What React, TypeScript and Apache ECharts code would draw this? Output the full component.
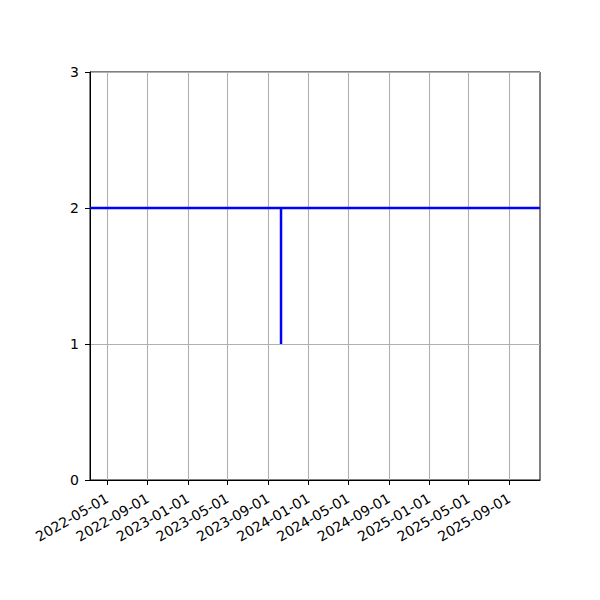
import React, { useEffect, useRef } from "react";
import * as echarts from "echarts";

const X_MIN = "2022-03-10";
const X_MAX = "2025-12-03";
const lineDates = ["2022-03-10", "2023-10-10", "2023-10-10", "2023-10-10", "2025-12-03"];
const lineValues = [2, 2, 1, 2, 2];
const tickDates = [
  "2022-05-01", "2022-09-01", "2023-01-01", "2023-05-01", "2023-09-01",
  "2024-01-01", "2024-05-01", "2024-09-01", "2025-01-01", "2025-05-01", "2025-09-01",
];
const yMin = 0;
const yMax = 3;
const yInterval = 1;

const ts = (s: string) => new Date(s + "T00:00:00Z").getTime();
const pad = (n: number) => (n < 10 ? "0" + n : "" + n);
const fmt = (v: number) => {
  const d = new Date(v);
  return d.getUTCFullYear() + "-" + pad(d.getUTCMonth() + 1) + "-" + pad(d.getUTCDate());
};

export default function App() {
  const ref = useRef<HTMLDivElement>(null);
  useEffect(() => {
    if (!ref.current) return;
    const chart = echarts.init(ref.current, undefined, { renderer: "svg" });
    const tickTs = tickDates.map(ts);
    const font = "DejaVu Sans";
    chart.setOption({
      animation: false,
      backgroundColor: "#ffffff",
      grid: {
        left: 90,
        top: 72,
        right: 60,
        bottom: 120,
        show: true,
        borderColor: "#000000",
        borderWidth: 1,
        backgroundColor: "transparent",
        containLabel: false,
      },
      xAxis: {
        type: "value",
        min: ts(X_MIN),
        max: ts(X_MAX),
        axisLine: { show: true, onZero: false, lineStyle: { color: "#000", width: 1 } },
        axisTick: {
          show: true,
          inside: false,
          length: 5,
          lineStyle: { color: "#000", width: 1 },
          customValues: tickTs,
        },
        axisLabel: {
          show: true,
          rotate: 30,
          margin: 17,
          color: "#000",
          fontSize: 14,
          fontFamily: font,
          customValues: tickTs,
          formatter: (v: number) => fmt(v),
          hideOverlap: false,
        },
        splitLine: { show: false },
      },
      yAxis: {
        type: "value",
        min: yMin,
        max: yMax,
        interval: yInterval,
        axisLine: { show: true, lineStyle: { color: "#000", width: 1 } },
        axisTick: { show: true, inside: false, length: 5, lineStyle: { color: "#000", width: 1 } },
        axisLabel: { color: "#000", fontSize: 14, fontFamily: font, margin: 11 },
        splitLine: { show: true, lineStyle: { color: "#b0b0b0", width: 1.1 } },
      },
      series: [
        {
          type: "line",
          silent: true,
          z: 1,
          data: [],
          markLine: {
            silent: true,
            symbol: ["none", "none"],
            label: { show: false },
            lineStyle: { color: "#b0b0b0", width: 1.1, type: "solid" },
            data: tickTs.map((t) => ({ xAxis: t })),
          },
        },
        {
          type: "line",
          z: 5,
          showSymbol: false,
          symbol: "none",
          lineStyle: { color: "#0000ff", width: 2.5 },
          itemStyle: { color: "#0000ff" },
          data: lineDates.map((d, i) => [ts(d), lineValues[i]]),
        },
      ],
    });
    return () => chart.dispose();
  }, []);
  return (
    <div
      ref={ref}
      style={{ position: "fixed", left: 0, top: 0, width: 600, height: 600, background: "#fff" }}
    />
  );
}
